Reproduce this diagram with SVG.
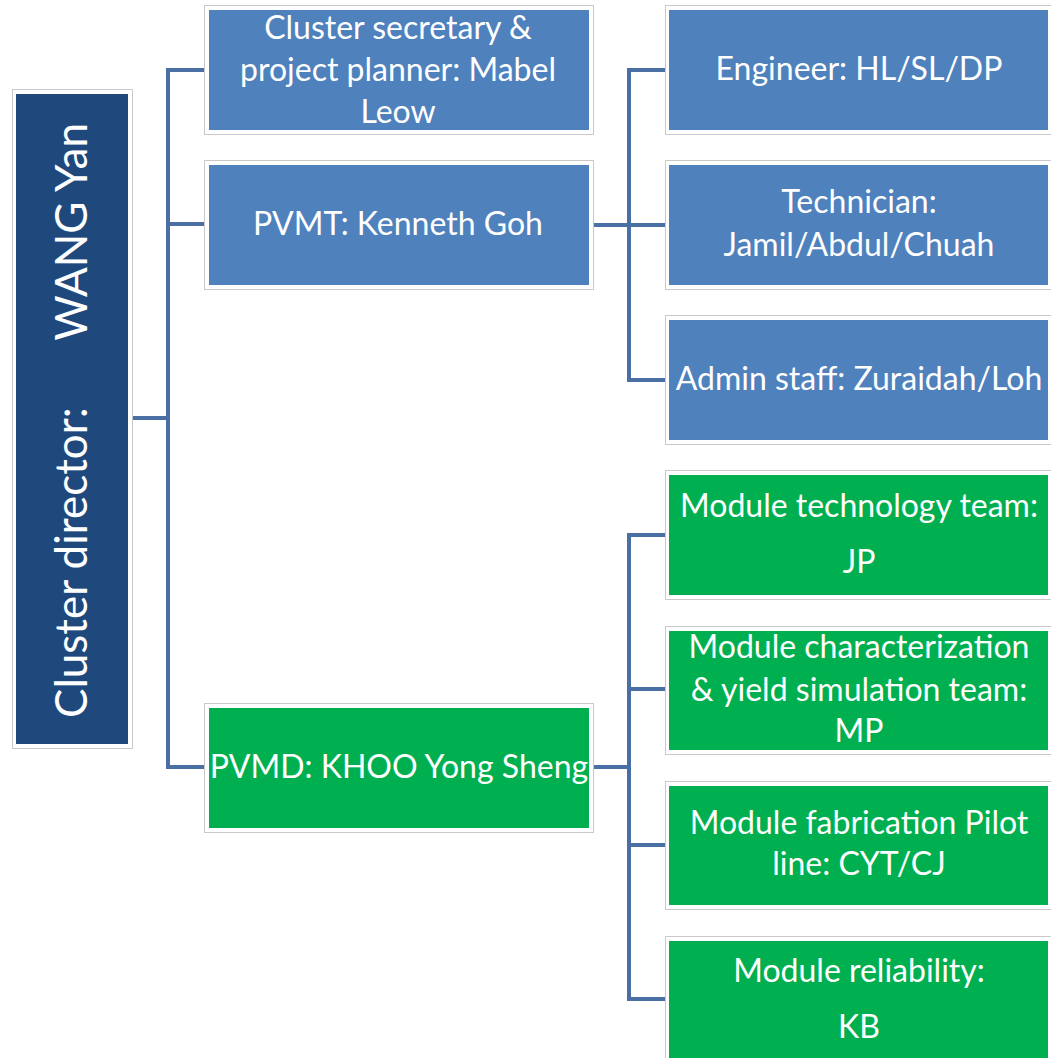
<svg xmlns="http://www.w3.org/2000/svg" width="1051" height="1058" viewBox="0 0 1051 1058">
  <style>
    .frame { fill: #ffffff; stroke: #c9c9c9; stroke-width: 1; }
    .dark { fill: #1F497D; }
    .blue { fill: #4F81BD; }
    .green { fill: #00B050; }
    .lbl { font-family: Lato, "Liberation Sans", sans-serif; font-size: 32px; fill: #ffffff; text-anchor: middle; }
    .dir { font-family: Lato, "Liberation Sans", sans-serif; font-size: 44px; fill: #ffffff; }
    .wire { fill: none; stroke: #4A6FA5; stroke-width: 4; stroke-linejoin: miter; }
  </style>

  <!-- connectors -->
  <g id="connectors">
    <path class="wire" d="M132 418 H168"/>
    <path class="wire" d="M204 70 H168 V767 H204"/>
    <path class="wire" d="M168 224 H204"/>
    <path class="wire" d="M593 225 H629"/>
    <path class="wire" d="M665 70 H629 V380 H665"/>
    <path class="wire" d="M629 225 H665"/>
    <path class="wire" d="M593 767 H629"/>
    <path class="wire" d="M665 535 H629 V999 H665"/>
    <path class="wire" d="M629 689 H665"/>
    <path class="wire" d="M629 845 H665"/>
  </g>

  <!-- director -->
  <g id="director">
    <rect class="frame" x="12.5" y="89.5" width="120" height="659"/>
    <rect class="dark" x="16" y="94" width="112" height="650"/>
    <g transform="rotate(-90)">
      <text class="dir" x="-718" y="87">Cluster director:</text>
      <text class="dir" x="-123" y="87" text-anchor="end">WANG Yan</text>
    </g>
  </g>

  <g id="secretary">
    <rect class="frame" x="204.5" y="5.5" width="389" height="129"/>
    <rect class="blue" x="209" y="10" width="380" height="120"/>
    <text class="lbl" x="398" y="39">Cluster secretary &amp;</text>
    <text class="lbl" x="398" y="81">project planner: Mabel</text>
    <text class="lbl" x="398" y="123">Leow</text>
  </g>

  <g id="pvmt">
    <rect class="frame" x="204.5" y="160.5" width="389" height="129"/>
    <rect class="blue" x="209" y="165" width="380" height="120"/>
    <text class="lbl" x="398" y="235">PVMT: Kenneth Goh</text>
  </g>

  <g id="pvmd">
    <rect class="frame" x="204.5" y="703.5" width="389" height="129"/>
    <rect class="green" x="209" y="708" width="380" height="120"/>
    <text class="lbl" x="399" y="778">PVMD: KHOO Yong Sheng</text>
  </g>

  <g id="engineer">
    <rect class="frame" x="665.5" y="5.5" width="388" height="129"/>
    <rect class="blue" x="669" y="10" width="379" height="120"/>
    <text class="lbl" x="859" y="80">Engineer: HL/SL/DP</text>
  </g>

  <g id="technician">
    <rect class="frame" x="665.5" y="160.5" width="388" height="129"/>
    <rect class="blue" x="669" y="165" width="379" height="120"/>
    <text class="lbl" x="859" y="213">Technician:</text>
    <text class="lbl" x="859" y="256">Jamil/Abdul/Chuah</text>
  </g>

  <g id="admin">
    <rect class="frame" x="665.5" y="315.5" width="388" height="129"/>
    <rect class="blue" x="669" y="320" width="379" height="120"/>
    <text class="lbl" x="859" y="390">Admin staff: Zuraidah/Loh</text>
  </g>

  <g id="module-tech">
    <rect class="frame" x="665.5" y="470.5" width="388" height="129"/>
    <rect class="green" x="669" y="475" width="379" height="120"/>
    <text class="lbl" x="859" y="517">Module technology team:</text>
    <text class="lbl" x="859" y="573">JP</text>
  </g>

  <g id="module-char">
    <rect class="frame" x="665.5" y="626.5" width="388" height="128"/>
    <rect class="green" x="669" y="631" width="379" height="119"/>
    <text class="lbl" x="859" y="658">Module characterization</text>
    <text class="lbl" x="859" y="701">&amp; yield simulation team:</text>
    <text class="lbl" x="859" y="742">MP</text>
  </g>

  <g id="module-fab">
    <rect class="frame" x="665.5" y="781.5" width="388" height="128"/>
    <rect class="green" x="669" y="786" width="379" height="119"/>
    <text class="lbl" x="859" y="834">Module fabrication Pilot</text>
    <text class="lbl" x="859" y="875">line: CYT/CJ</text>
  </g>

  <g id="module-rel">
    <rect class="frame" x="665.5" y="936.5" width="388" height="130"/>
    <rect class="green" x="669" y="941" width="379" height="125"/>
    <text class="lbl" x="859" y="982">Module reliability:</text>
    <text class="lbl" x="859" y="1038">KB</text>
  </g>
</svg>
